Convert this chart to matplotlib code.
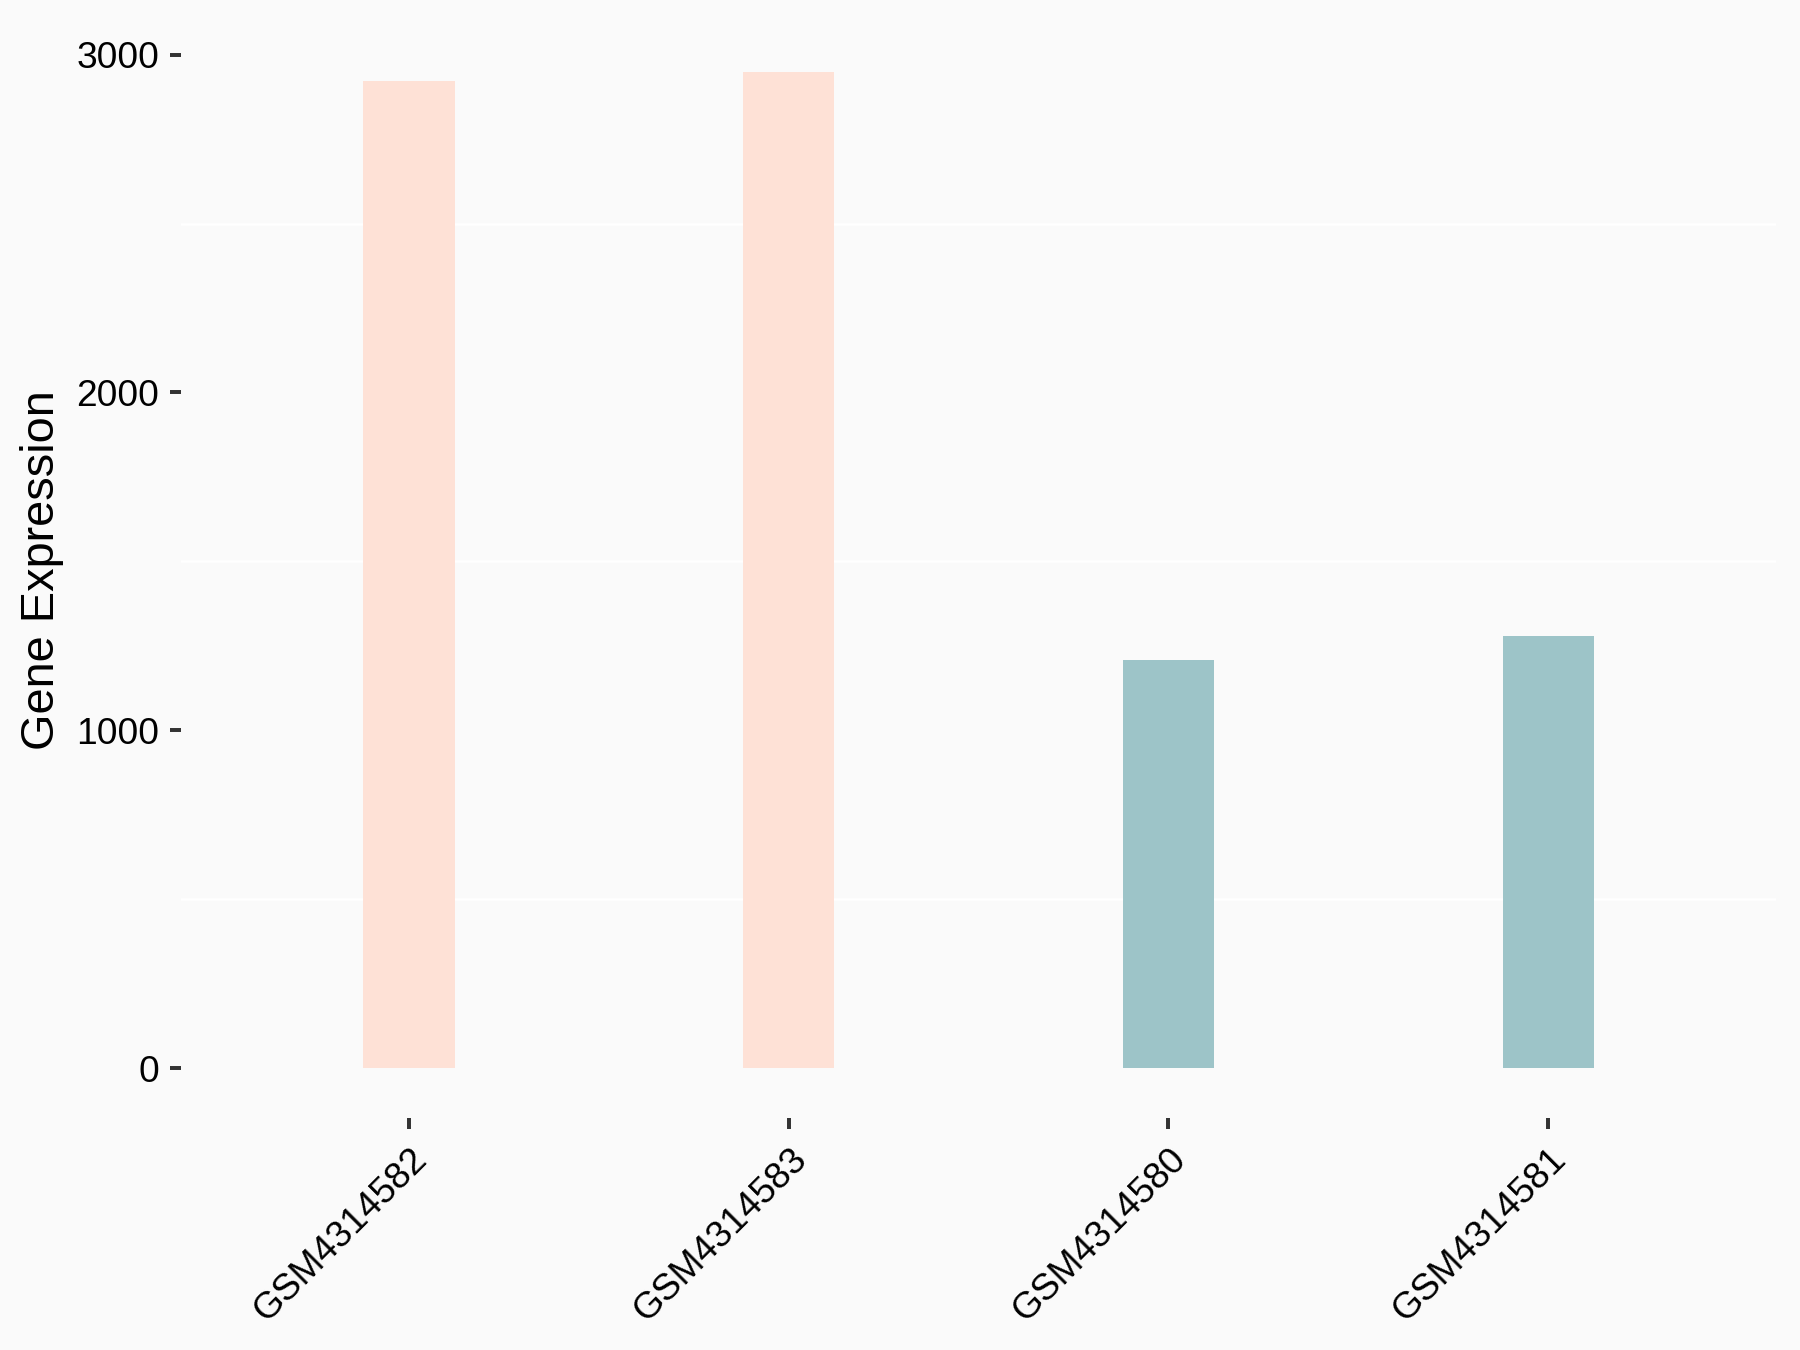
import matplotlib
matplotlib.use('Agg')
import matplotlib.pyplot as plt
import matplotlib.transforms as mtransforms
import numpy as np

# sample names and expression values
samples = ['GSM4314582', 'GSM4314583', 'GSM4314580', 'GSM4314581']
expression = [2923, 2949, 1207, 1279]
group_colors = ['#FEE1D6', '#FEE1D6', '#9DC4C8', '#9DC4C8']

plt.rcParams['font.family'] = ['Liberation Sans', 'DejaVu Sans']

bg = '#FAFAFA'
fig = plt.figure(figsize=(12, 9), dpi=150, facecolor=bg)
ax = fig.add_axes([0.1006, 0.1719, 0.8861, 0.8118])
ax.set_facecolor(bg)

x = np.arange(len(samples))
ax.bar(x, expression, width=0.24, color=group_colors, zorder=2)

# faint white grid lines between the labelled ticks
for g in [500, 1500, 2500]:
    ax.axhline(g, color='white', lw=1.2, zorder=1)

ax.set_xlim(-0.6, len(samples) - 0.4)
ymax = max(expression)
ax.set_ylim(-0.05 * ymax, ymax * 1.05)
ax.set_yticks([0, 1000, 2000, 3000])
ax.set_xticks(x)
ax.set_xticklabels(samples, rotation=45, ha='right', va='top',
                   rotation_mode='anchor')

# nudge rotated labels a little to the right, like ggplot's hjust=1
shift = mtransforms.ScaledTranslation(3 / 72, 0, fig.dpi_scale_trans)
for lab in ax.get_xticklabels():
    lab.set_transform(lab.get_transform() + shift)

for s in ax.spines.values():
    s.set_visible(False)

ax.tick_params(axis='both', colors='#333333', width=1.9, length=5.5,
               labelcolor='black', labelsize=17.8, pad=5)
ax.tick_params(axis='x', pad=6)
ax.set_ylabel('Gene Expression', fontsize=22.5, labelpad=6)

fig.savefig('out.png', dpi=150, facecolor=bg)
